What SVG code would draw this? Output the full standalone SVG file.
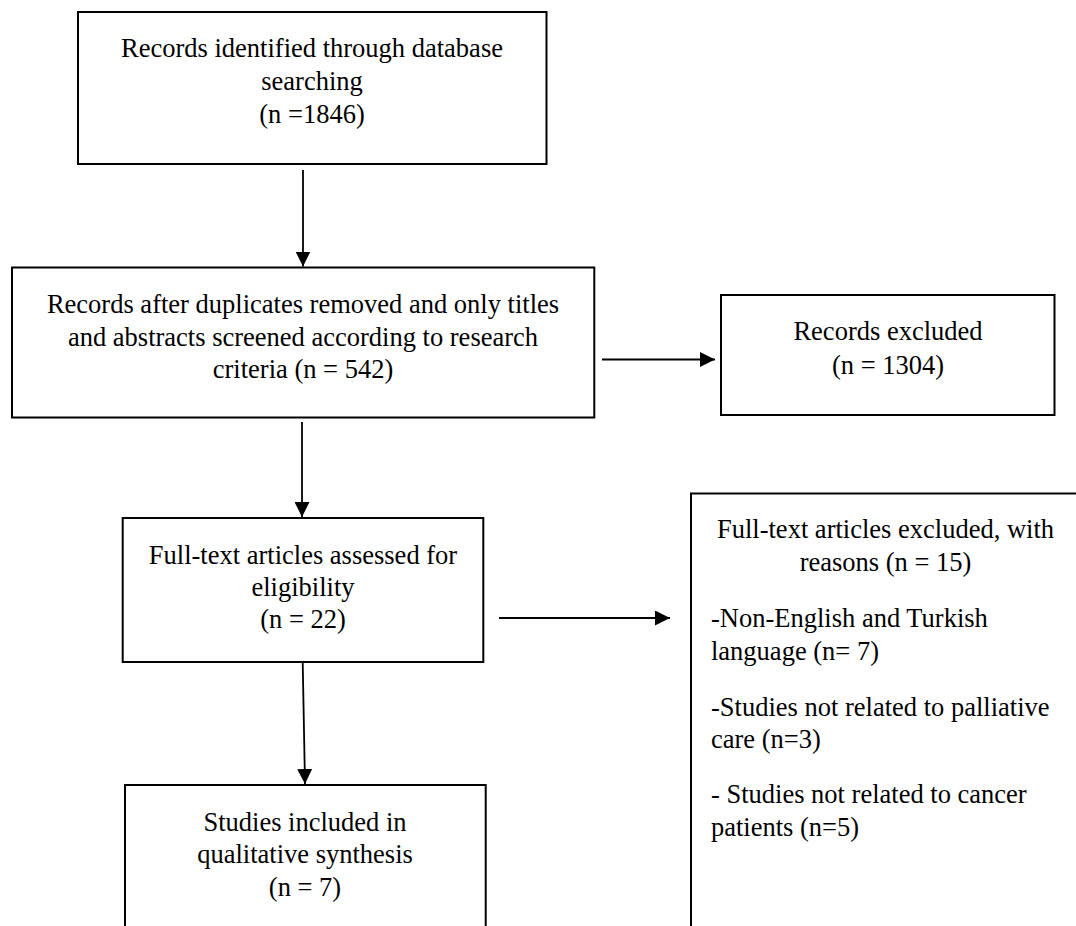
<svg xmlns="http://www.w3.org/2000/svg" width="1076" height="926" viewBox="0 0 1076 926">
  <style>
    .box { fill: #ffffff; stroke: #000000; stroke-width: 2; }
    .t { font-family: "Liberation Serif", "Times New Roman", serif; font-size: 26.5px; fill: #000000; }
    .c { text-anchor: middle; }
    .conn { stroke: #000000; stroke-width: 1.8; fill: none; marker-end: url(#ah); }
  </style>
  <defs>
    <marker id="ah" markerUnits="userSpaceOnUse" markerWidth="15" markerHeight="15" refX="15" refY="7.5" orient="auto">
      <path d="M0,0 L15,7.5 L0,15 Z" fill="#000000"/>
    </marker>
  </defs>
  <rect x="0" y="0" width="1076" height="926" fill="#ffffff"/>

  <g id="connectors">
    <line class="conn" x1="303" y1="170" x2="303" y2="266.5"/>
    <line class="conn" x1="602" y1="359.5" x2="715" y2="359.5"/>
    <line class="conn" x1="302" y1="422" x2="302" y2="517"/>
    <line class="conn" x1="499" y1="618" x2="670" y2="618"/>
    <line class="conn" x1="302.7" y1="662" x2="305" y2="784"/>
  </g>

  <g id="identified">
    <rect class="box" x="78" y="12" width="468.5" height="152"/>
    <text class="t c" x="312" y="57">Records identified through database</text>
    <text class="t c" x="312" y="90">searching</text>
    <text class="t c" x="312" y="123">(n =1846)</text>
  </g>

  <g id="screened">
    <rect class="box" x="12" y="267.5" width="582.3" height="150"/>
    <text class="t c" x="303" y="313">Records after duplicates removed and only titles</text>
    <text class="t c" x="303" y="345.5">and abstracts screened according to research</text>
    <text class="t c" x="303" y="378">criteria (n = 542)</text>
  </g>

  <g id="records-excluded">
    <rect class="box" x="721" y="295" width="333.5" height="120"/>
    <text class="t c" x="888" y="340">Records excluded</text>
    <text class="t c" x="888" y="374">(n = 1304)</text>
  </g>

  <g id="assessed">
    <rect class="box" x="122.7" y="518" width="360.6" height="144"/>
    <text class="t c" x="303" y="564">Full-text articles assessed for</text>
    <text class="t c" x="303" y="596">eligibility</text>
    <text class="t c" x="303" y="628">(n = 22)</text>
  </g>

  <g id="fulltext-excluded">
    <rect class="box" x="691" y="493.5" width="420" height="470"/>
    <text class="t c" x="885.5" y="538">Full-text articles excluded, with</text>
    <text class="t c" x="885.5" y="571">reasons (n = 15)</text>
    <text class="t" x="711" y="627">-Non-English and Turkish</text>
    <text class="t" x="711" y="659.5">language (n= 7)</text>
    <text class="t" x="711" y="715.5">-Studies not related to palliative</text>
    <text class="t" x="711" y="748">care (n=3)</text>
    <text class="t" x="711" y="803">- Studies not related to cancer</text>
    <text class="t" x="711" y="835.5">patients (n=5)</text>
  </g>

  <g id="included">
    <rect class="box" x="125" y="785" width="360.7" height="200"/>
    <text class="t c" x="305" y="831">Studies included in</text>
    <text class="t c" x="305" y="863">qualitative synthesis</text>
    <text class="t c" x="305" y="896">(n = 7)</text>
  </g>
</svg>
